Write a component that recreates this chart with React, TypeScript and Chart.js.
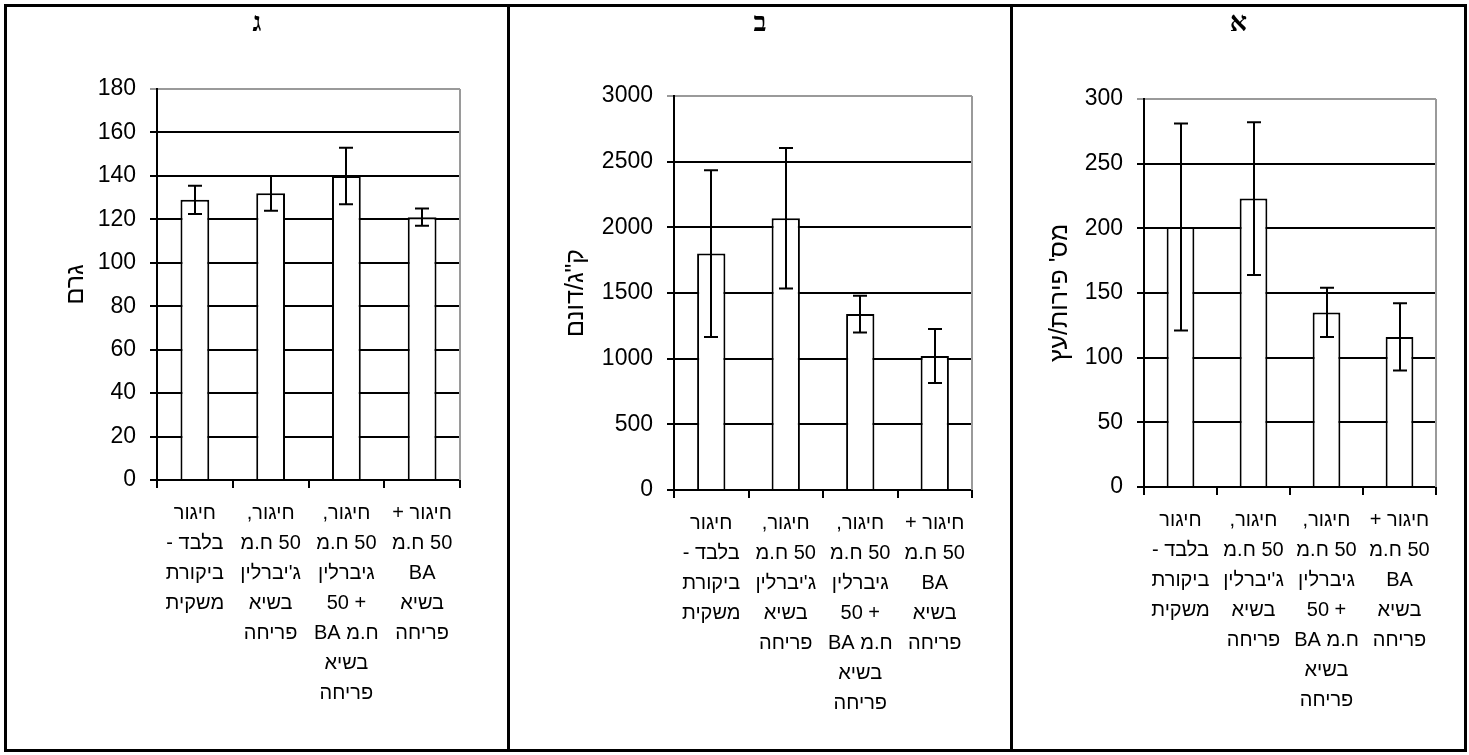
import React, { useEffect, useRef } from "react";
import Chart from "chart.js/auto";

// ---------- data ----------
const categories: string[][] = [
  ["חיגור", "בלבד -", "ביקורת", "משקית"],
  ["חיגור,", "50 ח.מ", "ג'יברלין", "בשיא", "פריחה"],
  ["חיגור,", "50 ח.מ", "גיברלין", "+ 50", "ח.מ BA", "בשיא", "פריחה"],
  ["חיגור +", "50 ח.מ", "BA", "בשיא", "פריחה"],
];

// panel ג : fruit weight (g)
const gimelTitle = "ג";
const gimelAxisTitle = "גרם";
const gimelValues = [129, 132, 140, 121];
const gimelErrors = [6.5, 8, 13, 4];
const gimelMax = 180;
const gimelStep = 20;

// panel ב : yield (kg/dunam)
const betTitle = "ב";
const betAxisTitle = 'ק"ג/דונם';
const betValues = [1800, 2070, 1340, 1020];
const betErrors = [635, 535, 140, 205];
const betMax = 3000;
const betStep = 500;

// panel א : fruits per tree
const alefTitle = "א";
const alefAxisTitle = "מס' פירות/עץ";
const alefValues = [201, 223, 135, 116];
const alefErrors = [80, 59, 19, 26];
const alefMax = 300;
const alefStep = 50;

// ---------- layout ----------
const CANVAS_TOP = 7;
const CANVAS_BOTTOM = 749;
const SANS = "'Liberation Sans', Arial, sans-serif";

type Panel = {
  title: string;
  axisTitle: string;
  values: number[];
  errors: number[];
  max: number;
  step: number;
  cellLeft: number;
  cellRight: number;
  plot: { l: number; t: number; r: number; b: number };
  axisTitleX: number;
};

const panels: Panel[] = [
  {
    title: gimelTitle, axisTitle: gimelAxisTitle, values: gimelValues, errors: gimelErrors,
    max: gimelMax, step: gimelStep, cellLeft: 7, cellRight: 507,
    plot: { l: 157, t: 89, r: 460, b: 480 }, axisTitleX: 76,
  },
  {
    title: betTitle, axisTitle: betAxisTitle, values: betValues, errors: betErrors,
    max: betMax, step: betStep, cellLeft: 510, cellRight: 1010,
    plot: { l: 674, t: 96, r: 972, b: 490 }, axisTitleX: 576,
  },
  {
    title: alefTitle, axisTitle: alefAxisTitle, values: alefValues, errors: alefErrors,
    max: alefMax, step: alefStep, cellLeft: 1014, cellRight: 1463,
    plot: { l: 1144, t: 99, r: 1436, b: 487 }, axisTitleX: 1060,
  },
];

const errorBarPlugin = {
  id: "errorBars",
  beforeDatasetsDraw(chart: any) {
    const { ctx, chartArea } = chart;
    ctx.save();
    ctx.strokeStyle = "#9a9a9a";
    ctx.lineWidth = 2;
    ctx.beginPath();
    ctx.moveTo(chartArea.right, chartArea.top);
    ctx.lineTo(chartArea.right, chartArea.bottom);
    ctx.stroke();
    ctx.restore();
  },
  afterDatasetsDraw(chart: any, _args: any, opts: any) {
    const { ctx } = chart;
    const yScale = chart.scales.y;
    const meta = chart.getDatasetMeta(0);
    const values = chart.data.datasets[0].data as number[];
    const errors: number[] = opts.errors || [];
    const cap = 7;
    ctx.save();
    ctx.strokeStyle = "#000";
    ctx.lineWidth = 2;
    meta.data.forEach((bar: any, i: number) => {
      const v = values[i];
      const e = errors[i];
      const x = Math.round(bar.x);
      const yt = yScale.getPixelForValue(v + e);
      const yb = yScale.getPixelForValue(v - e);
      ctx.beginPath();
      ctx.moveTo(x, yt);
      ctx.lineTo(x, yb);
      ctx.moveTo(x - cap, yt);
      ctx.lineTo(x + cap, yt);
      ctx.moveTo(x - cap, yb);
      ctx.lineTo(x + cap, yb);
      ctx.stroke();
    });
    ctx.restore();
  },
};

function BarPanel({ p }: { p: Panel }) {
  const ref = useRef<HTMLCanvasElement | null>(null);
  const w = p.cellRight - p.cellLeft;
  const h = CANVAS_BOTTOM - CANVAS_TOP;
  useEffect(() => {
    if (!ref.current) return;
    const titleFontSize = 25;
    const titleLineH = titleFontSize * 1.2;
    const chart = new Chart(ref.current, {
      type: "bar",
      data: {
        labels: categories,
        datasets: [
          {
            data: p.values,
            backgroundColor: "#ffffff",
            borderColor: "#000000",
            borderWidth: 2,
            barPercentage: 0.38,
            categoryPercentage: 1,
          },
        ],
      },
      plugins: [errorBarPlugin],
      options: {
        responsive: false,
        animation: false,
        devicePixelRatio: 1,
        layout: {
          padding: {
            left: 0,
            top: p.plot.t - CANVAS_TOP,
            right: p.cellRight - p.plot.r,
            bottom: 0,
          },
        },
        plugins: {
          legend: { display: false },
          tooltip: { enabled: false },
          title: { display: false },
          errorBars: { errors: p.errors },
        } as any,
        scales: {
          x: {
            offset: true,
            afterFit: (s: any) => {
              s.height = CANVAS_BOTTOM - p.plot.b;
            },
            grid: {
              offset: true,
              drawOnChartArea: false,
              drawTicks: true,
              tickLength: 8,
              color: "#000",
              lineWidth: 2,
            },
            border: { display: true, color: "#000", width: 2 },
            ticks: {
              color: "#000",
              maxRotation: 0,
              minRotation: 0,
              autoSkip: false,
              padding: 10,
              font: { family: SANS, size: 20, lineHeight: "30px" } as any,
            },
          },
          y: {
            min: 0,
            max: p.max,
            afterFit: (s: any) => {
              s.width = p.plot.l - p.cellLeft;
            },
            grid: {
              color: (c: any) => (c.tick && c.tick.value === p.max ? "#9a9a9a" : "#000"),
              lineWidth: 2,
              drawTicks: true,
              tickLength: 7,
            },
            border: { display: true, color: "#000", width: 2 },
            ticks: {
              stepSize: p.step,
              color: "#000",
              padding: 14,
              font: { family: SANS, size: 23 },
              callback: (v: any) => String(v),
            },
            title: {
              display: true,
              text: p.axisTitle,
              color: "#000",
              font: { family: SANS, size: titleFontSize, lineHeight: 1.2 },
              padding: { top: p.axisTitleX - p.cellLeft - titleLineH / 2, bottom: 0 },
            },
          },
        },
      },
    });
    return () => chart.destroy();
  }, []);
  return (
    <canvas
      ref={ref}
      width={w}
      height={h}
      dir="rtl"
      style={{ position: "absolute", left: p.cellLeft, top: CANVAS_TOP, width: w, height: h }}
    />
  );
}

function Line({ x, y, w, h }: { x: number; y: number; w: number; h: number }) {
  return <div style={{ position: "absolute", left: x, top: y, width: w, height: h, background: "#000" }} />;
}

export default function App() {
  return (
    <div
      style={{
        position: "fixed",
        left: 0,
        top: 0,
        width: 1469,
        height: 755,
        background: "#fff",
        overflow: "hidden",
      }}
    >
      {panels.map((p, i) => (
        <BarPanel key={i} p={p} />
      ))}
      {panels.map((p, i) => (
        <div
          key={"t" + i}
          dir="rtl"
          style={{
            position: "absolute",
            left: p.cellLeft,
            width: p.cellRight - p.cellLeft,
            top: 7,
            textAlign: "center",
            fontFamily: "'Liberation Serif', 'DejaVu Serif', serif",
            fontSize: 27,
            fontWeight: "bold",
            lineHeight: "30px",
            color: "#000",
          }}
        >
          {p.title}
        </div>
      ))}
      <Line x={4} y={4} w={1463} h={3} />
      <Line x={4} y={749} w={1463} h={3} />
      <Line x={4} y={4} w={3} h={748} />
      <Line x={1464} y={4} w={3} h={748} />
      <Line x={507} y={4} w={3} h={748} />
      <Line x={1010} y={4} w={3} h={748} />
    </div>
  );
}
